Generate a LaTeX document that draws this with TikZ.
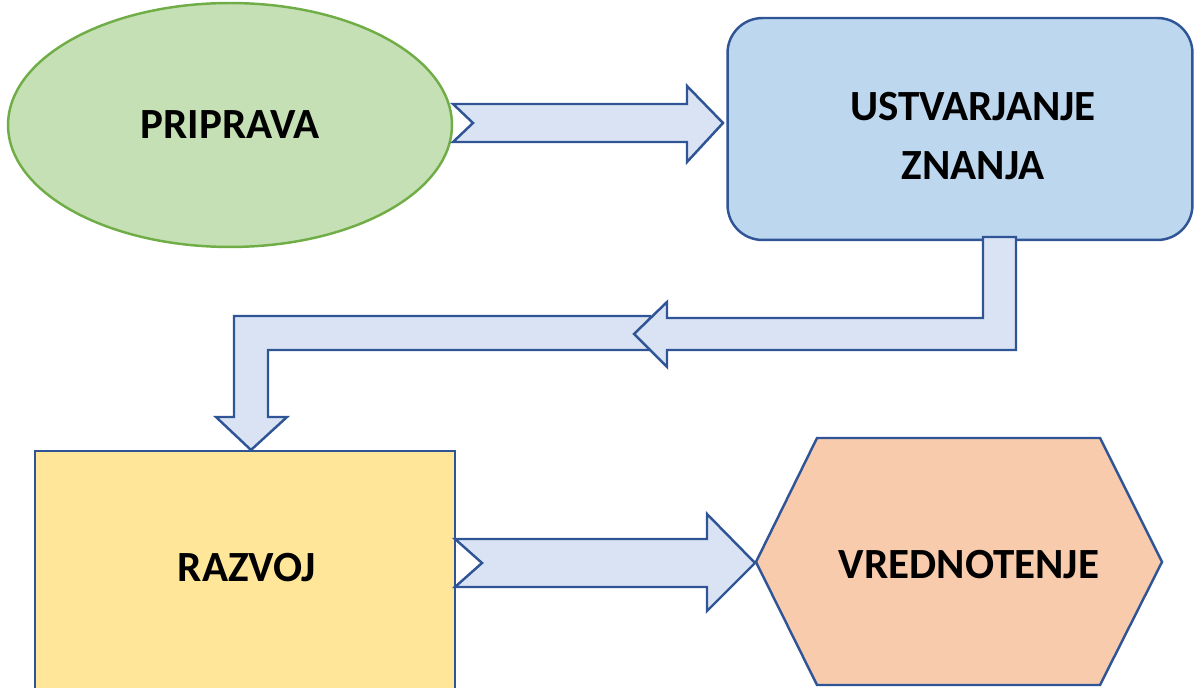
\documentclass[tikz,border=0pt]{standalone}
\usepackage{fontspec}
\setmainfont{Carlito}
\usetikzlibrary{shapes.geometric}
\definecolor{edgeblue}{HTML}{2F5597}
\definecolor{arrowfill}{HTML}{DAE3F3}
\definecolor{prepfill}{HTML}{C5E0B4}
\definecolor{prepedge}{HTML}{70AD47}
\definecolor{knowfill}{HTML}{BDD7EE}
\definecolor{devfill}{HTML}{FFE699}
\definecolor{evalfill}{HTML}{F8CBAD}
\begin{document}
\begin{tikzpicture}[x=0.02cm, y=-0.02cm,
  font=\fontsize{24.5}{29}\selectfont\bfseries,
  box/.style={draw=edgeblue, line width=1.4pt, align=center, fill=#1},
  blockarrow/.style={draw=edgeblue, line width=1.4pt, fill=arrowfill, line join=miter}
]
  \clip (0,0) rectangle (1194,688);
  \node[box=prepfill, draw=prepedge, ellipse, minimum width=8.88cm,
        minimum height=4.88cm] (prip) at (230,125) {PRIPRAVA};
  \node[box=knowfill, rounded corners=0.7cm, minimum width=9.3cm,
        minimum height=4.44cm] (ustv) at (960,129) {};
  \node[align=center] (ustvt) at (973,136) {USTVARJANJE\\[5pt]ZNANJA};
  \node[box=devfill, minimum width=8.4cm, minimum height=5.2cm,
        anchor=north] (razv) at (245,450) {};
  \node (razvt) at (247,568) {RAZVOJ};
  \draw[box=evalfill] (756,562) -- (817,438) -- (1100,438) -- (1162,562)
        -- (1100,685) -- (817,685) -- cycle;
  \node (vred) at (969,565) {VREDNOTENJE};
  % Puscice
  \draw[blockarrow] (453,104) -- (687,104) -- (687,86) -- (723,123)
        -- (687,162) -- (687,142) -- (453,142) -- (473,123) -- cycle;
  \draw[blockarrow] (650,316) -- (234,316) -- (234,417) -- (216,417)
        -- (251,450) -- (287,417) -- (268,417) -- (268,350) -- (650,350) -- cycle;
  \draw[blockarrow] (983,237) -- (1016,237) -- (1016,350) -- (667,350)
        -- (667,367) -- (634,334) -- (667,302) -- (667,318) -- (983,318) -- cycle;
  \draw[blockarrow] (455,539) -- (707,539) -- (707,514) -- (755,563)
        -- (707,611) -- (707,587) -- (455,587) -- (482,563) -- cycle;
\end{tikzpicture}
\end{document}
